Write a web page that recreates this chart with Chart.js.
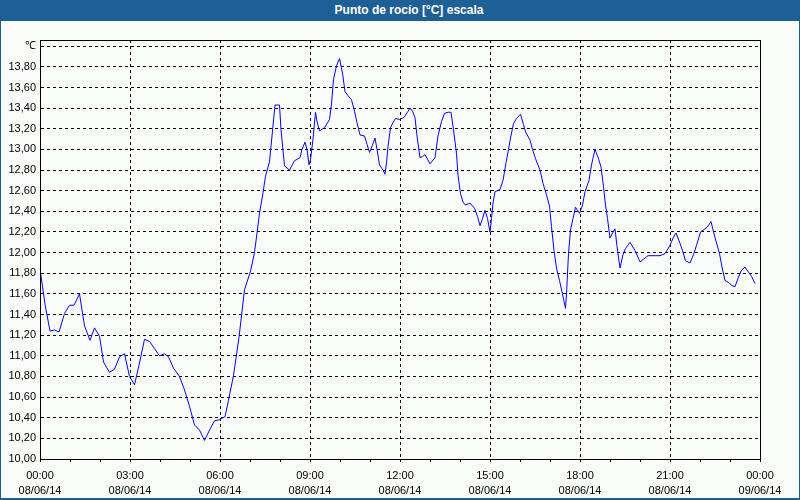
<!DOCTYPE html>
<html><head><meta charset="utf-8">
<script src="https://cdn.jsdelivr.net/npm/chart.js@4.4.1/dist/chart.umd.min.js"></script>
<style>
html,body{margin:0;padding:0;background:#fafcfa;}
#wrap{position:relative;width:800px;height:500px;background:#fafcfa;overflow:hidden;}
#title{position:absolute;left:0;top:0;width:800px;height:21px;background:#1e5f96;color:#fff;font:bold 12px "Liberation Sans",Arial,sans-serif;line-height:21px;text-align:center;padding-left:18px;box-sizing:border-box;}
#cv{position:absolute;left:0;top:21px;}
.b{position:absolute;background:#1e5f96;}
</style></head>
<body><div id="wrap">
<div id="title">Punto de rocío [°C] escala</div>
<canvas id="cv" width="800" height="479"></canvas>
<div class="b" style="left:0;top:0;width:1px;height:500px"></div>
<div class="b" style="left:799px;top:0;width:1px;height:500px"></div>
<div class="b" style="left:0;top:498px;width:800px;height:2px"></div>
</div>
<script>
const times = ["00:00","00:10","00:20","00:29","00:38","00:49","00:59","01:08","01:19","01:29","01:40","01:49","01:59","02:07","02:19","02:29","02:39","02:49","02:59","03:09","03:19","03:29","03:39","03:49","03:59","04:09","04:17","04:27","04:39","04:49","04:59","05:09","05:19","05:29","05:39","05:49","05:59","06:10","06:17","06:27","06:38","06:49","07:01","07:09","07:19","07:26","07:31","07:39","07:44","07:50","07:59","08:02","08:09","08:19","08:29","08:40","08:44","08:50","08:54","08:58","09:01","09:06","09:11","09:14","09:19","09:29","09:39","09:43","09:47","09:53","09:59","10:05","10:10","10:16","10:23","10:29","10:34","10:40","10:49","10:54","10:59","11:04","11:10","11:14","11:19","11:26","11:30","11:33","11:36","11:41","11:46","11:51","11:59","12:08","12:15","12:20","12:25","12:30","12:34","12:40","12:45","12:50","13:00","13:10","13:16","13:23","13:29","13:37","13:42","13:47","13:53","13:56","14:01","14:06","14:11","14:20","14:29","14:35","14:40","14:45","14:50","14:55","15:00","15:03","15:06","15:10","15:20","15:26","15:32","15:37","15:41","15:47","15:53","16:01","16:07","16:11","16:20","16:25","16:31","16:40","16:46","16:53","16:59","17:03","17:08","17:13","17:19","17:24","17:31","17:33","17:37","17:41","17:46","17:51","17:55","17:59","18:05","18:10","18:18","18:23","18:30","18:37","18:42","18:47","18:51","18:55","19:00","19:05","19:10","19:14","19:20","19:26","19:31","19:40","19:50","20:00","20:08","20:16","20:26","20:40","20:50","21:00","21:07","21:12","21:20","21:25","21:31","21:40","21:47","21:53","22:01","22:10","22:15","22:22","22:27","22:32","22:39","22:44","22:50","22:57","23:04","23:10","23:16","23:23","23:30","23:37","23:43","23:50"];
const dewPoint = [11.84,11.50,11.24,11.25,11.23,11.41,11.49,11.49,11.60,11.29,11.15,11.27,11.19,10.94,10.84,10.87,10.99,11.02,10.80,10.72,10.93,11.16,11.14,11.07,11.00,11.02,10.99,10.88,10.80,10.67,10.51,10.33,10.28,10.18,10.28,10.37,10.38,10.41,10.57,10.81,11.18,11.64,11.82,12.00,12.38,12.58,12.74,12.88,13.13,13.43,13.43,13.19,12.84,12.80,12.89,12.92,13.00,13.07,13.00,12.85,12.90,13.10,13.36,13.27,13.18,13.21,13.29,13.44,13.68,13.81,13.88,13.74,13.56,13.52,13.48,13.37,13.26,13.14,13.13,13.05,12.97,13.03,13.11,13.00,12.85,12.80,12.76,12.87,13.03,13.21,13.26,13.30,13.29,13.31,13.36,13.40,13.37,13.31,13.13,12.92,12.93,12.95,12.86,12.92,13.13,13.27,13.35,13.36,13.36,13.19,12.96,12.75,12.57,12.49,12.46,12.48,12.43,12.35,12.26,12.33,12.41,12.33,12.20,12.33,12.48,12.59,12.61,12.70,12.87,13.00,13.11,13.25,13.30,13.34,13.24,13.17,13.09,13.00,12.91,12.80,12.67,12.56,12.45,12.25,12.02,11.85,11.73,11.62,11.46,11.60,11.99,12.22,12.33,12.44,12.41,12.38,12.46,12.59,12.70,12.85,13.00,12.91,12.83,12.64,12.46,12.33,12.14,12.19,12.23,12.06,11.85,11.98,12.04,12.10,12.02,11.91,11.94,11.97,11.97,11.97,11.99,12.07,12.15,12.19,12.09,12.02,11.92,11.90,11.98,12.07,12.20,12.23,12.25,12.30,12.20,12.11,11.99,11.86,11.73,11.71,11.68,11.67,11.75,11.83,11.86,11.81,11.77,11.70];
const yTickValues = [10.0,10.2,10.4,10.6,10.8,11.0,11.2,11.4,11.6,11.8,12.0,12.2,12.4,12.6,12.8,13.0,13.2,13.4,13.6,13.8,14.0];
const yTickLabels = ["10,00","10,20","10,40","10,60","10,80","11,00","11,20","11,40","11,60","11,80","12,00","12,20","12,40","12,60","12,80","13,00","13,20","13,40","13,60","13,80","\u2103"];
const xTickMinutes = [0,60,120,180,240,300,360,420,480,540,600,660,720,780,840,900,960,1020,1080,1140,1200,1260,1320,1380,1440];
const xTickTimes = {0:"00:00",180:"03:00",360:"06:00",540:"09:00",720:"12:00",900:"15:00",1080:"18:00",1260:"21:00",1440:"00:00"};
const xTickDates = {0:"08/06/14",180:"08/06/14",360:"08/06/14",540:"08/06/14",720:"08/06/14",900:"08/06/14",1080:"08/06/14",1260:"08/06/14",1440:"09/06/14"};

function toMin(s){const p=s.split(':');return (+p[0])*60+(+p[1]);}
const points = times.map((t,i)=>({x:toMin(t), y:dewPoint[i]}));

const frame = {
  id:'frame',
  afterDraw(chart){
    const a = chart.chartArea, c = chart.ctx;
    c.save(); c.strokeStyle='#000'; c.lineWidth=1; c.setLineDash([]);
    c.strokeRect(a.left+0.5, a.top+0.5, a.right-a.left, a.bottom-a.top);
    c.restore();
  }
};
const FONT = {family:'"Liberation Sans", Arial, sans-serif', size:11, lineHeight:'15px'};

new Chart(document.getElementById('cv'), {
  type:'line',
  data:{datasets:[{data:points, borderColor:'#0000ff', borderWidth:1, pointRadius:0, tension:0, fill:false}]},
  options:{
    responsive:false, animation:false, parsing:true,
    layout:{padding:{top:19, right:40, left:0, bottom:0}},
    plugins:{legend:{display:false}, tooltip:{enabled:false}, title:{display:false}},
    scales:{
      x:{type:'linear', min:0, max:1440,
        afterBuildTicks:s=>{s.ticks = xTickMinutes.map(v=>({value:v}));},
        afterFit:s=>{s.height=41;},
        ticks:{autoSkip:false, maxRotation:0, minRotation:0, padding:6, color:'#000', font:FONT,
          callback:v=> (v in xTickTimes) ? [xTickTimes[v], xTickDates[v]] : ''},
        grid:{color:c=> (c.tick && (c.tick.value % 180 === 0)) ? '#000' : 'rgba(0,0,0,0)', tickColor:'#000', tickLength:3, lineWidth:1, drawTicks:true},
        border:{display:true, color:'#000', width:1, dash:[3,3]}
      },
      y:{type:'linear', min:10, max:14.06,
        afterBuildTicks:s=>{s.ticks = yTickValues.map(v=>({value:v}));},
        afterFit:s=>{s.width=40;},
        ticks:{padding:4, color:'#000', font:FONT, callback:(v,i)=>yTickLabels[i]},
        grid:{color:'#000', lineWidth:1, drawTicks:false},
        border:{display:true, color:'#000', width:1, dash:[3,3]}
      }
    }
  },
  plugins:[frame]
});
</script>
</body></html>
